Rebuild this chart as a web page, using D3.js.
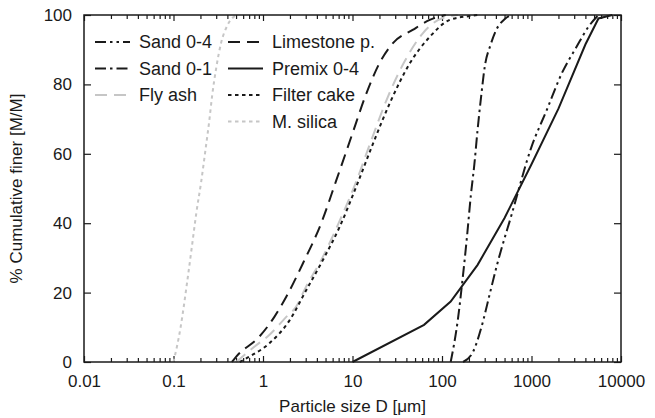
<!DOCTYPE html>
<html><head><meta charset="utf-8">
<script src="https://cdn.jsdelivr.net/npm/d3@7"></script>
<style>body{margin:0;background:#fff} text{font-family:"Liberation Sans",Arial,sans-serif}</style>
</head><body><svg id="c" width="655" height="418"></svg>
<script>
// ---- data (particle size in µm, cumulative % finer) ----
const sand04D = [172, 223, 277, 343, 407, 600, 1000, 1480, 2180, 3200, 4300, 5600];
const sand04P = [0, 3, 10.2, 19.8, 27.5, 42.5, 62, 72.6, 83.2, 90.9, 96.5, 100];
const sand01D = [125, 150, 170, 190, 210, 230, 250, 275, 300, 350, 400, 500, 600];
const sand01P = [0, 12, 24, 36, 48, 57, 67, 77, 85, 91.5, 95.5, 98.8, 100];
const flyAshD = [0.5, 0.8, 1.2, 1.82, 2.35, 3, 4.6, 7, 11, 16, 24, 38, 60, 90, 150];
const flyAshP = [0, 4.4, 8, 13, 16, 21.5, 30, 40, 52, 63.5, 75.5, 86.5, 94.5, 98.5, 100];
const limeD = [0.45, 0.5, 0.91, 1.34, 1.82, 2.79, 4.47, 6.6, 9.7, 14.3, 20, 28.3, 47, 73, 110];
const limeP = [0, 1.5, 7.3, 13, 18.8, 28.4, 40, 52.4, 64.9, 77.4, 86.1, 91.9, 95.7, 98.6, 100];
const premixD = [10, 63, 125, 250, 500, 1000, 2000, 4000, 5600, 8000];
const premixP = [0, 10.7, 17.4, 28, 41.5, 57, 73, 91.5, 99, 100];
const filterD = [0.55, 0.7, 1.18, 1.98, 3.04, 4.67, 7.2, 11, 17, 26, 43.5, 73, 122, 204, 250];
const filterP = [0, 1.5, 5.4, 12, 20.7, 29.4, 39, 50.5, 63, 74.5, 86, 93.7, 98.6, 99.7, 100];
const silicaD = [0.1, 0.12, 0.142, 0.16, 0.18, 0.204, 0.23, 0.251, 0.271, 0.30, 0.342, 0.40, 0.5];
const silicaP = [0, 10, 23, 33, 43, 52, 62, 69.5, 77, 84.7, 92.2, 97, 100];

const xTickValues = [0.01, 0.1, 1, 10, 100, 1000, 10000];
const xTickLabels = ["0.01", "0.1", "1", "10", "100", "1000", "10000"];
const yTickValues = [0, 20, 40, 60, 80, 100];
const xTitle = "Particle size D [μm]";
const yTitle = "% Cumulative finer [M/M]";

// ---- chart ----
const svg = d3.select("#c");
const L = 84, R = 621, T = 15, B = 362;
const x = d3.scaleLog().domain([0.01, 10000]).range([L, R]);
const y = d3.scaleLinear().domain([0, 100]).range([B, T]);
const ink = "#1a1a1a", grey = "#c6c6c6";
const FS = 17;

const minor = [];
for (let e = -2; e < 4; e++) for (let k = 2; k <= 9; k++) minor.push(k * Math.pow(10, e));

function styleAxis(g) {
  g.select(".domain").remove();
  g.selectAll("line").attr("stroke", ink).attr("stroke-width", 1.2);
  g.selectAll("text").attr("fill", ink).attr("font-size", FS).attr("font-family", '"Liberation Sans",Arial,sans-serif');
}
svg.append("g").attr("transform", `translate(0,${B})`)
  .call(d3.axisBottom(x).tickValues(xTickValues).tickSize(-6).tickPadding(13).tickFormat((d, i) => xTickLabels[i])).call(styleAxis);
svg.append("g").attr("transform", `translate(0,${B})`)
  .call(d3.axisBottom(x).tickValues(minor).tickSize(-4).tickFormat("")).call(styleAxis);
svg.append("g").attr("transform", `translate(0,${T})`)
  .call(d3.axisTop(x).tickValues(xTickValues).tickSize(-6).tickFormat("")).call(styleAxis);
svg.append("g").attr("transform", `translate(0,${T})`)
  .call(d3.axisTop(x).tickValues(minor).tickSize(-4).tickFormat("")).call(styleAxis);
svg.append("g").attr("transform", `translate(${L},0)`)
  .call(d3.axisLeft(y).tickValues(yTickValues).tickSize(-7).tickPadding(12)).call(styleAxis);
svg.append("g").attr("transform", `translate(${R},0)`)
  .call(d3.axisRight(y).tickValues(yTickValues).tickSize(-7).tickFormat("")).call(styleAxis);

const series = [
  {name: "Fly ash", D: flyAshD, P: flyAshP, color: grey, dash: "12,7", curve: d3.curveMonotoneX},
  {name: "M. silica", D: silicaD, P: silicaP, color: grey, dash: "3.5,3.5", curve: d3.curveMonotoneX},
  {name: "Limestone p.", D: limeD, P: limeP, color: ink, dash: "12,7", curve: d3.curveMonotoneX},
  {name: "Filter cake", D: filterD, P: filterP, color: ink, dash: "3.5,3.5", curve: d3.curveMonotoneX},
  {name: "Sand 0-1", D: sand01D, P: sand01P, color: ink, dash: "11,4,2.5,4", curve: d3.curveMonotoneX},
  {name: "Sand 0-4", D: sand04D, P: sand04P, color: ink, dash: "11,4,2.5,4,2.5,4", curve: d3.curveMonotoneX},
  {name: "Premix 0-4", D: premixD, P: premixP, color: ink, dash: null, curve: d3.curveLinear}
];
const byName = Object.fromEntries(series.map(s => [s.name, s]));

const plot = svg.append("g");
series.forEach(s => {
  const pts = s.D.map((d, i) => [d, s.P[i]]);
  const line = d3.line().x(p => x(p[0])).y(p => y(p[1])).curve(s.curve);
  plot.append("path").attr("d", line(pts)).attr("fill", "none")
    .attr("stroke", s.color).attr("stroke-width", 2)
    .attr("stroke-dasharray", s.dash);
});

// frame
svg.append("rect").attr("x", L).attr("y", T).attr("width", R - L).attr("height", B - T)
  .attr("fill", "none").attr("stroke", ink).attr("stroke-width", 1.5);

// legend
const legendCols = [["Sand 0-4", "Sand 0-1", "Fly ash"], ["Limestone p.", "Premix 0-4", "Filter cake", "M. silica"]];
const colX = [95, 228];
legendCols.forEach((col, ci) => {
  col.forEach((name, ri) => {
    const s = byName[name];
    const yy = 42 + ri * 26.5;
    const g = svg.append("g");
    g.append("line").attr("x1", colX[ci]).attr("x2", colX[ci] + 35).attr("y1", yy).attr("y2", yy)
      .attr("stroke", s.color).attr("stroke-width", 2).attr("stroke-dasharray", s.dash);
    g.append("text").attr("x", colX[ci] + 44).attr("y", yy).attr("dy", "0.35em")
      .attr("font-size", FS + 1).attr("fill", ink).text(name);
  });
});

// titles
svg.append("text").attr("x", (L + R) / 2).attr("y", 412).attr("text-anchor", "middle")
  .attr("font-size", FS).attr("fill", ink).text(xTitle);
svg.append("text").attr("transform", `translate(22,${(T + B) / 2}) rotate(-90)`).attr("text-anchor", "middle")
  .attr("font-size", FS).attr("fill", ink).text(yTitle);
</script></body></html>
